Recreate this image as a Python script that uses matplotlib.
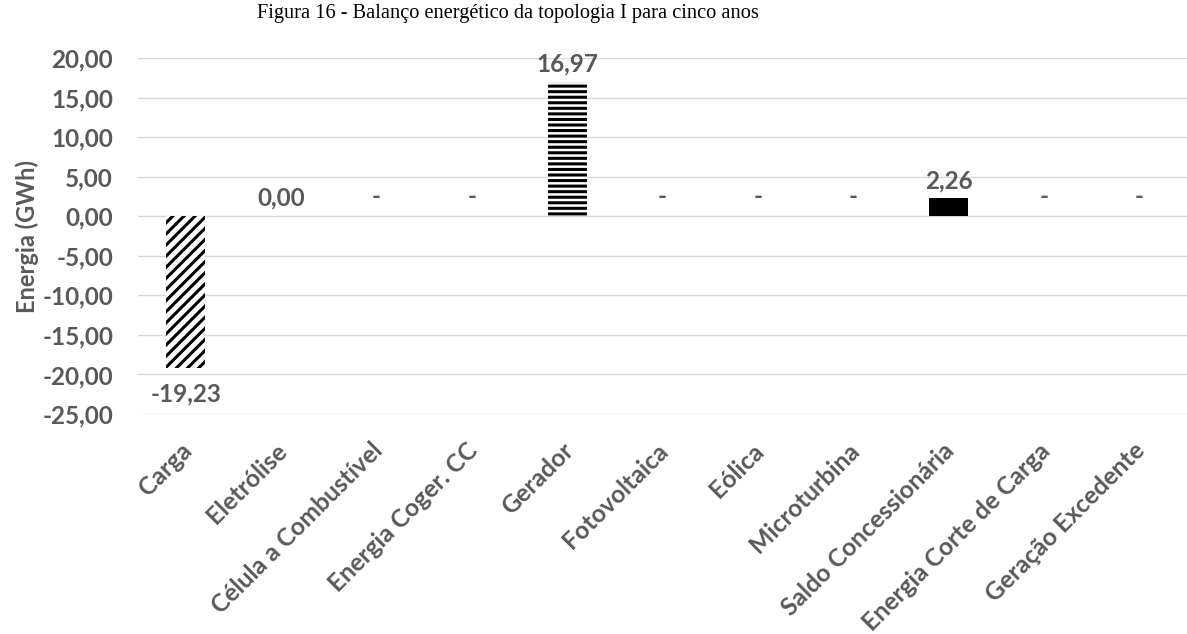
import matplotlib.pyplot as plt
from matplotlib.ticker import FuncFormatter, MultipleLocator
from matplotlib.transforms import ScaledTranslation

categories = [
    "Carga", "Eletrólise", "Célula a Combustível", "Energia Coger. CC",
    "Gerador", "Fotovoltaica", "Eólica", "Microturbina",
    "Saldo Concessionária", "Energia Corte de Carga", "Geração Excedente",
]
values = [-19.23, 0.001, 0.0, 0.0, 16.97, 0.0, 0.0, 0.0, 2.26, 0.0, 0.0]
hatches = ["///", "", "", "", "---", "", "", "", "", "", ""]
fills = ["white", "white", "white", "white", "white", "white", "white",
         "white", "black", "white", "white"]

title = "Figura 16 - Balanço energético da topologia I para cinco anos"
ylabel = "Energia (GWh)"
gray = "#595959"


def fmt(v: float) -> str:
    return f"{v:.2f}".replace(".", ",").replace("-0,00", "0,00")


def main() -> None:
    plt.rcParams["font.family"] = ["Lato", "DejaVu Sans"]
    plt.rcParams["hatch.linewidth"] = 2.2

    fig = plt.figure(figsize=(11.87, 6.34), dpi=100)
    ax = fig.add_axes([0.1163, 0.347, 0.8837, 0.5615])

    x = list(range(len(categories)))
    ax.bar(x, values, width=0.41, color=fills, edgecolor="black",
           linewidth=0, zorder=3)
    for xi, v, h in zip(x, values, hatches):
        if h:
            ax.bar(xi, v, width=0.41, facecolor="white", edgecolor="black",
                   linewidth=0, hatch=h, zorder=3)

    for xi, v in zip(x, values):
        if v < 0:
            txt, y, va = fmt(v), v - 1.8, "top"
        elif v == 0:
            txt, y, va = "-", 1.0, "bottom"
        else:
            txt, y, va = fmt(v), v + 0.8, "bottom"
        ax.text(xi, y, txt, ha="center", va=va, fontsize=17.5,
                fontweight="bold", color=gray)

    ax.set_xlim(-0.5, len(categories) - 0.5)
    ax.set_ylim(-25, 20)
    ax.yaxis.set_major_locator(MultipleLocator(5))
    ax.yaxis.set_major_formatter(FuncFormatter(lambda v, p: fmt(v)))
    ax.grid(axis="y", color="#d9d9d9", linewidth=1, zorder=0)
    for s in ax.spines.values():
        s.set_visible(False)
    ax.tick_params(axis="y", length=0, labelsize=17.5, labelcolor=gray, pad=18)
    for lab in ax.get_yticklabels():
        lab.set_fontweight("bold")

    ax.set_xticks(x)
    ax.set_xticklabels(categories, rotation=45, ha="right", va="top",
                       rotation_mode="anchor", fontweight="bold",
                       fontsize=17.8, color=gray)
    ax.tick_params(axis="x", length=0, pad=10)
    shift = ScaledTranslation(-6 / 100, -11 / 100, fig.dpi_scale_trans)
    for lab in ax.get_xticklabels():
        lab.set_transform(lab.get_transform() + shift)

    ax.set_ylabel(ylabel, fontsize=17, fontweight="bold", color=gray,
                  labelpad=2)

    fig.text(0.428, 0.978, title, ha="center", va="center", fontsize=14.7,
             family="Liberation Serif", color="black")

    fig.savefig("out.png", dpi=100)


if __name__ == "__main__":
    main()
